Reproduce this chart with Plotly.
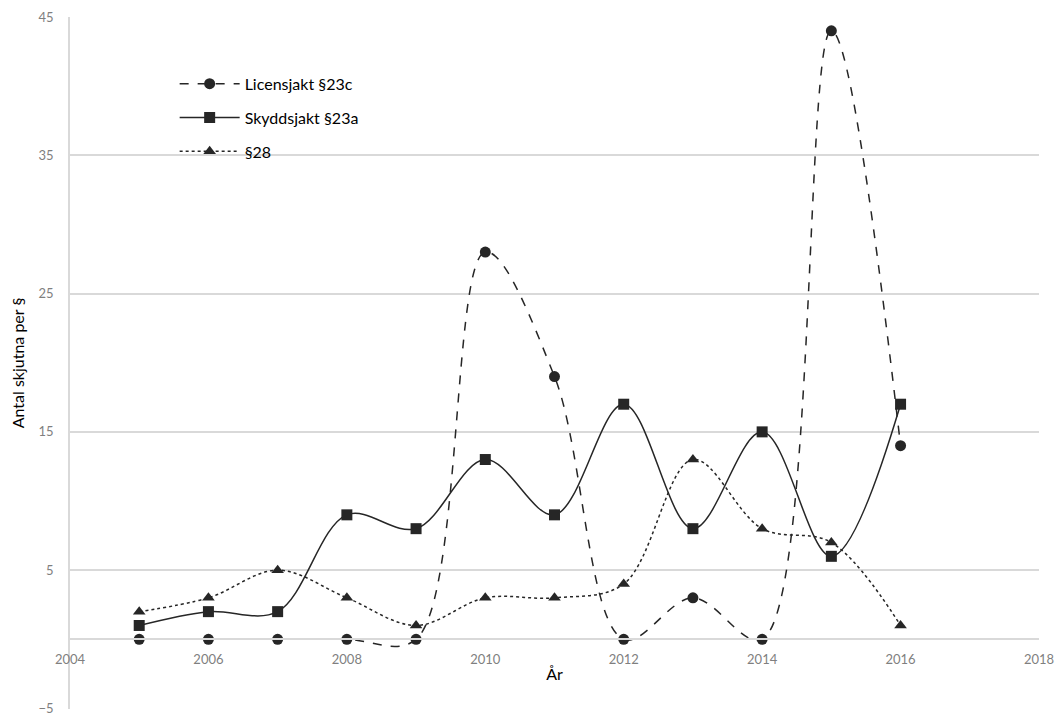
import plotly.graph_objects as go

years = [2005, 2006, 2007, 2008, 2009, 2010, 2011, 2012, 2013, 2014, 2015, 2016]
licensjakt = [0, 0, 0, 0, 0, 28, 19, 0, 3, 0, 44, 14]
skyddsjakt = [1, 2, 2, 9, 8, 13, 9, 17, 8, 15, 6, 17]
par28 = [2, 3, 5, 3, 1, 3, 3, 4, 13, 8, 7, 1]

names = ["Licensjakt §23c", "Skyddsjakt §23a", "§28"]
y_ticks = [-5, 5, 15, 25, 35, 45]
x_ticks = [2004, 2006, 2008, 2010, 2012, 2014, 2016, 2018]

col = "#262626"
fig = go.Figure()
series = [
    (licensjakt, names[0], "dash", "circle"),
    (skyddsjakt, names[1], "solid", "square"),
    (par28, names[2], "dot", "triangle-up"),
]
for i, (vals, name, dash, sym) in enumerate(series):
    fig.add_trace(go.Scatter(
        x=years, y=vals, name=name, mode="lines+markers", legendgroup=f"g{i}",
        line=dict(color=col, width=1.5, dash=dash, shape="spline", smoothing=1.0),
        marker=dict(symbol=sym, size=11, color=col),
    ))

font = "Lato, 'Noto Sans', sans-serif"
fig.update_layout(
    width=1058, height=715,
    margin=dict(l=70, r=19, t=17, b=6),
    plot_bgcolor="white", paper_bgcolor="white",
    font=dict(family=font, color="#595959"),
    showlegend=True,
    legend=dict(x=0.108, y=0.928, xanchor="left", yanchor="top", traceorder="grouped",
                font=dict(size=16, color="#000000"), tracegroupgap=10,
                bgcolor="rgba(0,0,0,0)", itemwidth=60),
    xaxis=dict(range=[2004, 2018], tickvals=x_ticks, anchor="free", position=0.1006,
               showline=True, linecolor="#d9d9d9", linewidth=1.5, showgrid=False,
               zeroline=False, ticks="", tickfont=dict(size=13, color="#7f7f7f"),
               automargin=False, ticklabelstandoff=8, ticklabeloverflow="allow",
               title=dict(text="År", font=dict(size=16, color="#000000"), standoff=2)),
    yaxis=dict(range=[-5.04, 45], tickvals=y_ticks, showgrid=True, gridcolor="#d9d9d9",
               gridwidth=1.5, zeroline=False, showline=True, linecolor="#d9d9d9",
               linewidth=1.5, ticks="", tickfont=dict(size=13, color="#7f7f7f"),
               automargin=False, ticklabelstandoff=12, ticklabeloverflow="allow",
               title=dict(text="Antal skjutna per §", font=dict(size=16, color="#000000"), standoff=10)),
)
fig.write_html("out.html", config={"displayModeBar": False},
               post_script="document.body.style.margin='0';document.body.style.overflow='hidden';")
